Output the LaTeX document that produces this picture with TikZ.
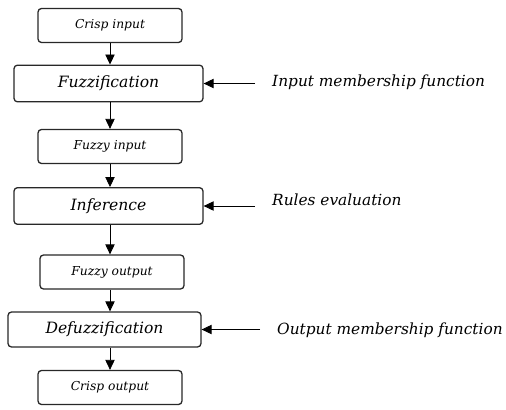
\documentclass[tikz,border=0pt]{standalone}
\usepackage{fontspec}
\setmainfont{DejaVu Serif}
\usetikzlibrary{arrows.meta,positioning}
\definecolor{boxgray}{RGB}{40,40,40}

\begin{document}
\begin{tikzpicture}[x=0.03cm, y=-0.03cm,
    small/.style={rectangle, rounded corners=3pt, draw=boxgray, line width=1.1pt, fill=white,
                minimum width=4.32cm, minimum height=1.02cm, font=\itshape\fontsize{10.5}{12}\selectfont},
    big/.style={rectangle, rounded corners=3pt, draw=boxgray, line width=1.1pt, fill=white,
                minimum width=5.67cm, minimum height=1.1cm, font=\itshape\fontsize{13.3}{15}\selectfont},
    lbl/.style={anchor=west, inner sep=0pt, font=\itshape\fontsize{13.1}{15}\selectfont},
    arr/.style={-{Triangle[length=3mm,width=2.8mm]}, black, line width=0.7pt}]
\useasboundingbox (0,0) rectangle (506,409);
\node[small] (ci) at (110,25.5) {Crisp input};
\node[big] (fz) at (108.5,83.5) {Fuzzification};
\node[small] (fi) at (110,146.5) {Fuzzy input};
\node[big] (inf) at (108.5,206) {Inference};
\node[small] (fo) at (112,272) {Fuzzy output};
\node[big, minimum width=5.79cm, minimum height=1.05cm] (dfz) at (104.5,329.5) {Defuzzification};
\node[small] (co) at (110,387.5) {Crisp output};
% rule sources
\node[lbl] (imf) at (272,82) {Input membership function};
\node[lbl] (re) at (272,200) {Rules evaluation};
\node[lbl] (omf) at (277,330) {Output membership function};
\coordinate (s1) at (255,83.5);
\coordinate (s2) at (255,206);
\coordinate (s3) at (260,329.5);
\draw[arr] (ci)--(fz.north-|ci); \draw[arr] (fz.south-|ci)--(fi); \draw[arr] (fi)--(inf.north-|fi);
\draw[arr] (inf.south-|ci)--(fo.north-|ci); \draw[arr] (fo.south-|ci)--(dfz.north-|ci); \draw[arr] (dfz.south-|co)--(co);
\draw[arr] (s1)--(fz.east); \draw[arr] (s2)--(inf.east); \draw[arr] (s3)--(dfz.east);
\end{tikzpicture}
\end{document}
